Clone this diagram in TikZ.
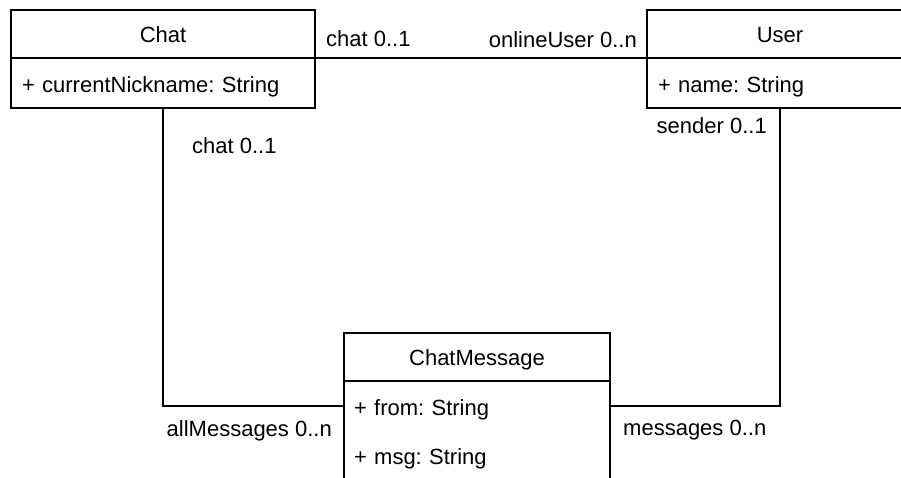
\documentclass[tikz,border=0pt]{standalone}
\usepackage{fontspec}
\setmainfont{Liberation Sans}
\frenchspacing
\begin{document}
\begin{tikzpicture}[x=1pt,y=-1pt,
  every node/.style={font=\fontsize{22}{26}\selectfont},
  frame/.style={draw,line width=2pt,rectangle,inner sep=0pt},
  hdr/.style={rectangle,inner sep=0pt,minimum height=49pt,text height=18pt,text depth=0pt},
  attr/.style={rectangle,inner xsep=11pt,inner ysep=0pt,minimum height=49pt,text height=18pt,text depth=0pt,align=left},
  lbl/.style={inner sep=0pt},
  conn/.style={draw,line width=2pt}]
\useasboundingbox (0,0) rectangle (901,477);
\clip (0,0) rectangle (901,477);
\fill[white] (0,0) rectangle (901,477);

% Chat
\node[frame,minimum width=304pt,minimum height=98pt,anchor=north west] (chat) at (10,9) {};
\node[hdr,minimum width=304pt,anchor=north] (chatH) at (chat.north) {Chat};
\draw[line width=2pt] (chatH.south west) -- (chatH.south east);
\node[attr,text width=282pt,anchor=north] (chatA) at (chatH.south) {\frenchspacing + currentNickname: String};

% User
\node[frame,minimum width=266pt,minimum height=98pt,anchor=north west] (user) at (646,9) {};
\node[hdr,minimum width=266pt,anchor=north] (userH) at (user.north) {User};
\draw[line width=2pt] (userH.south west) -- (userH.south east);
\node[attr,text width=244pt,anchor=north] (userA) at (userH.south) {\frenchspacing + name: String};

% ChatMessage
\node[frame,minimum width=266pt,minimum height=165pt,anchor=north west] (msg) at (343,332) {};
\node[hdr,minimum width=266pt,anchor=north] (msgH) at (msg.north) {ChatMessage};
\draw[line width=2pt] (msgH.south west) -- (msgH.south east);
\node[attr,inner xsep=10pt,text width=246pt,anchor=north] (msgA1) at (msgH.south) {\frenchspacing + from: String};
\node[attr,inner xsep=10pt,text width=246pt,anchor=north] (msgA2) at (msgA1.south) {\frenchspacing + msg: String};

% connectors
\path[conn] (chatH.south east) -- (userH.south west);
\path[conn] (chat.south) |- (msgA1.west);
\path[conn] (user.south) |- (msgA1.east);

% labels
\node[lbl,anchor=base west] (l1) at (326,46) {chat 0..1};
\node[lbl,anchor=base east] (l2) at (637,47) {onlineUser 0..n};
\node[lbl,anchor=base west] (l3) at (192,153) {chat 0..1};
\node[lbl,anchor=base east] (l4) at (767,133) {sender 0..1};
\node[lbl,anchor=base east] (l5) at (332,436) {allMessages 0..n};
\node[lbl,anchor=base west] (l6) at (623,435) {messages 0..n};
\end{tikzpicture}
\end{document}
